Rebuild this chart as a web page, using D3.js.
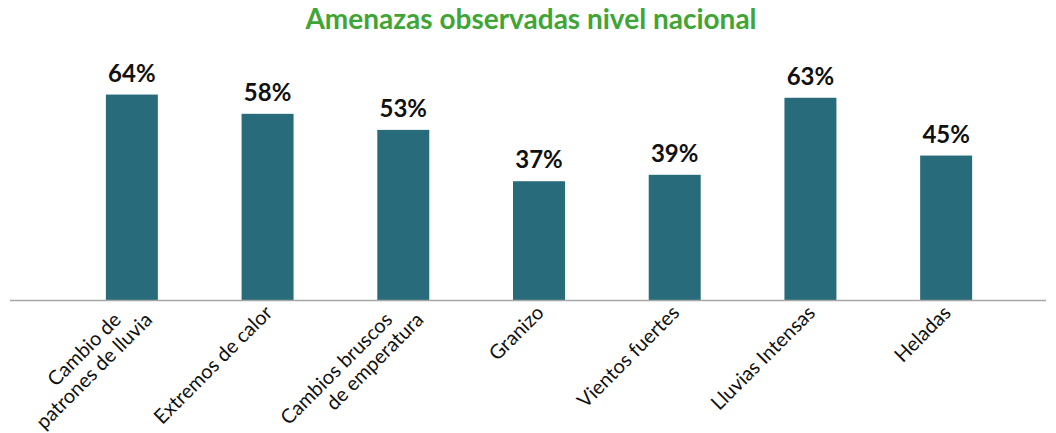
<!DOCTYPE html>
<html>
<head>
<meta charset="utf-8">
<script src="https://cdn.jsdelivr.net/npm/d3@7"></script>
<style>
  body { margin: 0; background: #fff; }
  svg { display: block; font-family: Lato, sans-serif; }
</style>
</head>
<body>
<script>
// chart data
const categories = [
  ["Cambio de", "patrones de lluvia"],
  ["Extremos de calor"],
  ["Cambios bruscos", "de emperatura"],
  ["Granizo"],
  ["Vientos fuertes"],
  ["Lluvias Intensas"],
  ["Heladas"]
];
const values = [64, 58, 53, 37, 39, 63, 45];
const title = "Amenazas observadas nivel nacional";

const w = 1056;
const h = 433;
const baseY = 300;
const lineH = 22;

const svg = d3.select("body").append("svg").attr("width", w).attr("height", h);

// title
svg.append("text")
  .attr("x", 531)
  .attr("y", 29)
  .attr("text-anchor", "middle")
  .attr("font-size", 28)
  .attr("font-weight", "bold")
  .attr("fill", "#3fa535")
  .text(title);

// scales
const xScale = d3.scaleBand()
  .domain(d3.range(values.length))
  .range([64, 1014])
  .paddingInner(0.617)
  .paddingOuter(0.3085);
const yScale = d3.scaleLinear()
  .domain([0, 100])
  .range([baseY, baseY - 321]);

// bars
svg.selectAll("rect")
  .data(values)
  .enter()
  .append("rect")
  .attr("x", (d, i) => xScale(i))
  .attr("y", (d) => yScale(d))
  .attr("width", xScale.bandwidth())
  .attr("height", (d) => baseY - yScale(d))
  .attr("fill", "#286b7b");

// value labels
svg.selectAll(".val")
  .data(values)
  .enter()
  .append("text")
  .attr("class", "val")
  .attr("x", (d, i) => xScale(i) + xScale.bandwidth() / 2)
  .attr("y", (d) => yScale(d) - 13)
  .attr("text-anchor", "middle")
  .attr("font-size", 24)
  .attr("font-weight", "bold")
  .attr("fill", "#111")
  .text((d) => d + "%");

// axis line
svg.append("line")
  .attr("x1", 10)
  .attr("x2", 1046)
  .attr("y1", baseY + 0.5)
  .attr("y2", baseY + 0.5)
  .attr("stroke", "#a6a6a6")
  .attr("stroke-width", 1.3);

// category labels, rotated -45; line ends share one height, stepped sideways
categories.forEach((lines, i) => {
  const cx = xScale(i) + xScale.bandwidth() / 2;
  const n = lines.length;
  const ay = baseY + 14 + (n - 1) * 7;
  lines.forEach((line, k) => {
    const ax = cx + 6 + (k - (n - 1) / 2) * lineH * Math.SQRT2;
    svg.append("text")
      .attr("class", "cat")
      .attr("transform", "translate(" + ax + "," + ay + ") rotate(-45)")
      .attr("text-anchor", "end")
      .attr("font-size", 20)
      .attr("fill", "#111")
      .text(line);
  });
});
</script>
</body>
</html>
